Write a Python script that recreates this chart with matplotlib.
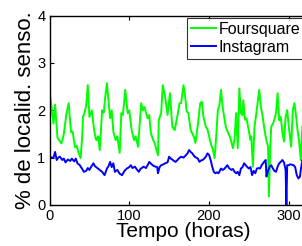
import numpy as np
import matplotlib
matplotlib.use('Agg')
import matplotlib.pyplot as plt

plt.rcParams['font.family'] = ['Liberation Sans', 'DejaVu Sans']

#dados (horas, % de localidades sensoriadas)
horas_fsq = [0, 2, 5, 7, 10, 13, 15, 18, 21, 24, 26, 27, 29, 32, 34, 36, 39, 41, 42, 44,
             46, 48, 50, 53, 56, 58, 59, 61, 63, 66, 68, 70, 72, 74, 76, 78, 80, 83, 85, 88,
             90, 92, 95, 98, 100, 103, 106, 108, 111, 115, 117, 119, 123, 125, 127, 130, 132, 136, 137, 140,
             142, 145, 148, 151, 154, 157, 161, 163, 165, 168, 170, 172, 174, 177, 181, 183, 186, 189, 191, 193,
             196, 198, 202, 205, 207, 209, 211, 213, 215, 217, 219, 221, 224, 226, 230, 232, 234, 236, 238, 240,
             242, 243, 245, 247, 249, 252, 253, 255, 257, 259, 263, 265, 267, 269, 271, 274, 275, 277, 278, 281,
             284, 286, 288, 290, 292, 294, 296, 298, 300, 303, 305, 307, 309, 311, 313, 315, 317, 320]
foursquare = [2.40, 2.15, 1.72, 2.12, 1.42, 1.35, 1.30, 1.50, 1.90, 2.15, 1.75, 1.54, 1.55, 1.22, 1.25, 1.12, 0.99, 1.45, 1.86, 1.95,
              2.10, 2.53, 1.86, 2.00, 1.58, 1.40, 1.37, 1.45, 1.16, 2.00, 1.95, 2.30, 2.57, 2.20, 1.83, 2.00, 1.55, 1.37, 1.45, 1.10,
              1.94, 1.90, 2.43, 1.94, 2.00, 1.58, 1.37, 1.45, 1.23, 2.15, 2.00, 2.07, 1.83, 1.90, 1.52, 1.37, 1.30, 1.05, 1.79, 1.94,
              2.53, 2.28, 1.90, 2.36, 1.65, 1.58, 1.94, 2.15, 2.15, 2.53, 2.30, 1.97, 1.95, 1.58, 1.44, 1.31, 1.70, 2.15, 2.18, 1.86,
              1.65, 1.60, 1.31, 1.16, 0.99, 1.44, 2.00, 2.10, 2.43, 2.07, 1.86, 1.65, 1.52, 1.45, 1.20, 1.40, 1.94, 1.20, 2.46, 1.94,
              1.90, 2.21, 1.80, 1.83, 1.65, 1.37, 1.45, 0.81, 1.65, 1.90, 2.43, 2.07, 1.90, 1.65, 1.44, 1.23, 0.18, 1.31, 1.65, 1.75,
              1.94, 2.36, 1.79, 1.86, 1.52, 1.34, 1.86, 2.00, 1.65, 1.23, 2.00, 2.15, 1.90, 1.58, 1.34, 0.95, 1.65, 1.80]

horas_ig = [0, 3, 5, 7, 9, 11, 13, 16, 18, 20, 23, 26, 28, 31, 33, 35, 38, 41, 43, 46,
            48, 50, 52, 55, 57, 60, 63, 66, 69, 72, 74, 76, 78, 80, 82, 85, 88, 91, 94, 97,
            100, 102, 104, 107, 110, 112, 114, 118, 121, 123, 125, 128, 131, 135, 136, 138, 140, 143, 145, 148,
            150, 152, 154, 156, 158, 160, 162, 165, 168, 171, 173, 175, 177, 179, 182, 184, 186, 188, 190, 192,
            194, 196, 198, 200, 202, 204, 206, 208, 210, 212, 215, 217, 219, 221, 223, 225, 228, 230, 232, 234,
            236, 238, 240, 242, 244, 246, 248, 250, 252, 254, 256, 258, 260, 262, 264, 266, 269, 271, 272, 274,
            276, 278, 280, 282, 284, 286, 288, 290, 292, 294, 296, 297, 298, 300, 302, 306, 308, 310, 312, 314,
            315, 317, 320]
instagram = [1.02, 1.00, 1.00, 1.12, 0.95, 1.00, 1.02, 0.95, 0.98, 0.90, 0.96, 0.93, 0.98, 0.92, 0.98, 0.88, 0.84, 0.76, 0.70, 0.72,
             0.78, 0.74, 0.80, 0.88, 0.82, 0.78, 0.74, 0.70, 0.63, 0.77, 0.82, 0.91, 0.80, 0.88, 0.70, 0.74, 0.66, 0.63, 0.72, 0.77,
             0.80, 0.84, 0.78, 0.81, 0.74, 0.70, 0.76, 0.81, 0.78, 0.84, 0.91, 0.86, 0.82, 0.80, 0.67, 0.80, 0.84, 0.86, 0.88, 0.90,
             1.02, 0.98, 0.96, 0.93, 0.91, 0.94, 0.98, 1.02, 1.00, 1.05, 1.09, 1.16, 1.12, 1.09, 1.02, 1.00, 0.98, 0.91, 0.94, 0.95,
             0.98, 1.02, 1.09, 1.06, 0.95, 0.81, 0.70, 0.67, 0.69, 0.67, 0.77, 0.74, 0.76, 0.80, 0.84, 0.78, 0.74, 0.76, 0.70, 0.67,
             0.70, 0.63, 0.77, 0.80, 0.88, 0.84, 0.80, 0.77, 0.80, 0.63, 0.72, 0.67, 0.77, 0.78, 0.77, 0.84, 0.91, 0.95, 0.60, 0.72,
             0.81, 0.84, 0.77, 0.72, 0.70, 0.81, 0.88, 0.91, 0.95, 0.90, 0.74, 0.00, 0.84, 0.84, 0.86, 0.84, 0.80, 0.63, 0.56, 0.60,
             0.74, 0.95, 0.90]

f = plt.figure(figsize=(3.02, 2.46), dpi=100)
ax = f.add_axes([49.5/302, 41/246, 268/302, 189.5/246])  #eixo passa da borda direita, como no original

ax.plot(horas_fsq, foursquare, '-', color=(0, 1, 0), linewidth=1.4, label='Foursquare')
ax.plot(horas_ig, instagram, '-', color=(0, 0, 1), linewidth=1.4, label='Instagram')

ax.set_xlim(0, 336)
ax.set_ylim(0, 4)
ax.set_xticks([0, 100, 200, 300])
ax.set_yticks([0, 1, 2, 3, 4])
ax.tick_params(direction='in', top=True, right=True, length=3, labelsize=10.5, pad=3)
for s in ax.spines.values():
    s.set_linewidth(1.0)
ax.set_xlabel('Tempo (horas)', fontsize=15, labelpad=-1)
ax.set_ylabel('% de localid. senso.', fontsize=16, labelpad=1)

leg = ax.legend(loc='upper left', bbox_to_anchor=(187/302, 1 - 18/246),
                bbox_transform=f.transFigure, fontsize=11.5, frameon=True, fancybox=False,
                borderpad=0.23, labelspacing=0.2, handlelength=1.6, handletextpad=0.15,
                borderaxespad=0)
leg.get_frame().set_edgecolor('black')
leg.get_frame().set_linewidth(0.8)

f.savefig('out.png', dpi=100)
